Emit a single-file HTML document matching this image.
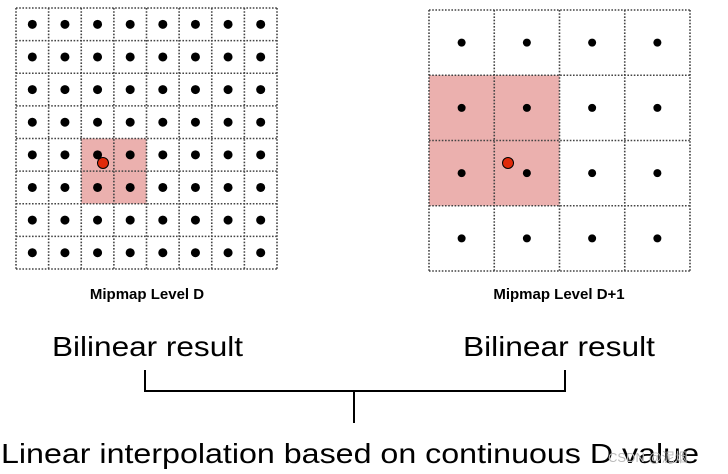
<!DOCTYPE html>
<html><head><meta charset="utf-8"><style>html,body{margin:0;padding:0;background:#fff}svg{display:block}</style></head>
<body>
<svg width="728" height="474" viewBox="0 0 728 474" xmlns="http://www.w3.org/2000/svg" font-family="Liberation Sans, sans-serif">
<g id="left"></g>
<g id="right"></g>
<text x="147" y="299" text-anchor="middle" font-size="15" font-weight="bold">Mipmap Level D</text>
<text x="559" y="299" text-anchor="middle" font-size="15" font-weight="bold">Mipmap Level D+1</text>
<text x="52" y="356" font-size="28" textLength="191" lengthAdjust="spacingAndGlyphs">Bilinear result</text>
<text x="463" y="356" font-size="28" textLength="192" lengthAdjust="spacingAndGlyphs">Bilinear result</text>
<path d="M145 370 V391 H565 V370 M354 391 V423" fill="none" stroke="#000" stroke-width="2"/>
<text x="1" y="463" font-size="28" textLength="698" lengthAdjust="spacingAndGlyphs">Linear interpolation based on continuous D value</text>
<text x="608" y="462" font-size="13" fill="#bbb">CSDN @泥烟</text>
</svg>
<script>
const grids=[
 {id:'left',x0:16,y0:8,size:261,n:8,pink:[2,4],dotR:4.5,red:[103,163]},
 {id:'right',x0:429,y0:10,size:261,n:4,pink:[0,1],dotR:4,red:[508,163]}
];
const NS='http://www.w3.org/2000/svg';
grids.forEach(g=>{
 const G=document.getElementById(g.id);const c=g.size/g.n;
 const p=document.createElementNS(NS,'rect');
 
 
 p.setAttribute('x',g.x0+g.pink[0]*c);p.setAttribute('y',g.y0+g.pink[1]*c);
 p.setAttribute('width',2*c);p.setAttribute('height',2*c);p.setAttribute('fill','#ebb0ae');
 G.appendChild(p);
 for(let i=0;i<=g.n;i++){
  const a=document.createElementNS(NS,'line');
  
  
  a.setAttribute('x1',g.x0+i*c);a.setAttribute('x2',g.x0+i*c);a.setAttribute('y1',g.y0);a.setAttribute('y2',g.y0+g.size);
  a.setAttribute('stroke','#444');a.setAttribute('stroke-width','1.6');a.setAttribute('stroke-dasharray','1.6 1.6');G.appendChild(a);
  const b=document.createElementNS(NS,'line');
  
  
  b.setAttribute('y1',g.y0+i*c);b.setAttribute('y2',g.y0+i*c);b.setAttribute('x1',g.x0);b.setAttribute('x2',g.x0+g.size);
  b.setAttribute('stroke','#444');b.setAttribute('stroke-width','1.6');b.setAttribute('stroke-dasharray','1.6 1.6');G.appendChild(b);
 }
 for(let r=0;r<g.n;r++)for(let k=0;k<g.n;k++){
  const d=document.createElementNS(NS,'circle');
  
  
  d.setAttribute('cx',g.x0+(k+0.5)*c);d.setAttribute('cy',g.y0+(r+0.5)*c);d.setAttribute('r',g.dotR);G.appendChild(d);
 }
 const s=document.createElementNS(NS,'circle');
 
 
 s.setAttribute('cx',g.red[0]);s.setAttribute('cy',g.red[1]);s.setAttribute('r',5.5);
 s.setAttribute('fill','#e02a0a');s.setAttribute('stroke','#000');s.setAttribute('stroke-width','1');G.appendChild(s);
});
</script>
</body></html>
